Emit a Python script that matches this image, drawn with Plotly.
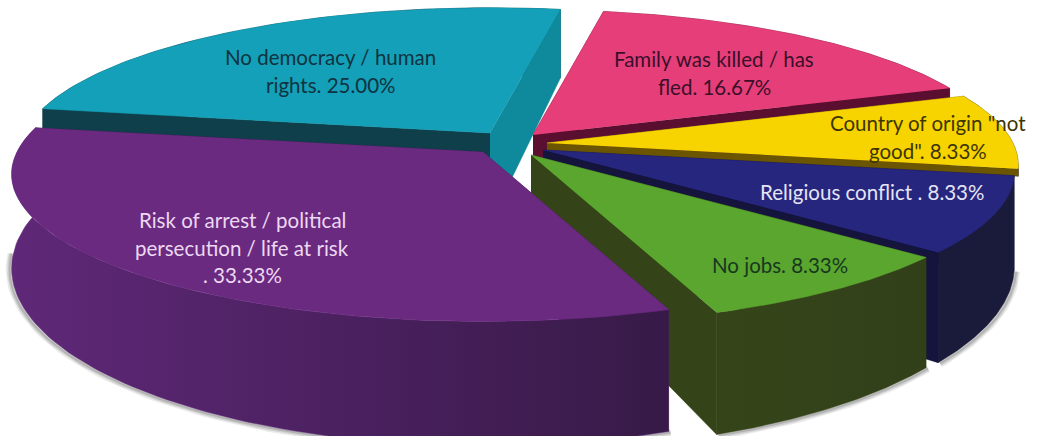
import numpy as np
import plotly.graph_objects as go

categories = ["Family was killed / has fled", 'Country of origin "not good"', "Religious conflict",
              "No jobs", "Risk of arrest / political persecution / life at risk", "No democracy / human rights"]
values = [16.67, 8.33, 8.33, 8.33, 33.33, 25.00]

# layout / styling (one entry per slice)
apex_x = [533, 547, 543, 531, 483, 490]
apex_y = [135, 143, 150, 155, 152, 133]
depth_scale = [1, 0.08, 1, 1, 1, 1]
top_col = ["#E63E78", "#F7D400", "#26267E", "#5AA62E", "#6A2A80", "#14A0B8"]
face_col = ["#5A0F30", "#6B5500", "#14143C", "#344318", "#4A1E5E", "#0E8A9C"]
start_face_col = ["#5A0F30", "#6B5500", "#14143C", "#344318", "#4A1E5E", "#0F3F4A"]
rim_left = ["#5A0F30", "#1A1A3A", "#1A1A3A", "#354519", "#5F2878", "#0F3F4A"]
rim_right = ["#5A0F30", "#1A1A3A", "#1A1A3A", "#32401A", "#371A47", "#0F3F4A"]
draw_order = [5, 0, 1, 2, 3, 4]

START_ANGLE, RX, RY, PERSP, DEPTH = 80.0, 466.0, 144.0, 0.15, 90.0

label_lines = [
    (["Family was killed / has", "fled. 16.67%"], 714, [59, 87], "#3A0F2A"),
    (['Country of origin "not', 'good". 8.33%'], 928, [123, 151], "#3E3500"),
    (["Religious conflict . 8.33%"], 872, [192], "#E4E4F6"),
    (["No jobs. 8.33%"], 780, [265], "#17381F"),
    (["Risk of arrest / political", "persecution / life at risk", ". 33.33%"], 242, [220, 248, 275], "#EDD8F2"),
    (["No democracy / human", "rights. 25.00%"], 330, [57, 85], "#0F3340"),
]


def project(theta_deg, ax, ay):
    t = np.radians(theta_deg)
    s = 1.0 / (1.0 + PERSP * np.sin(t))
    return ax + RX * np.cos(t) * s, ay - RY * np.sin(t) * s, DEPTH * s * s


fracs = np.array(values) / sum(values) * 360.0
ends = START_ANGLE - np.cumsum(fracs)
starts = ends + fracs


def poly(x, y, color=None, gradient=None):
    kw = dict(x=list(x), y=list(y), mode="lines", fill="toself", hoverinfo="skip",
              showlegend=False, line=dict(width=0.5, color=color or gradient[0]))
    if gradient:
        kw["fillgradient"] = dict(type="horizontal",
                                  colorscale=[[0, gradient[0]], [1, gradient[1]]])
    else:
        kw["fillcolor"] = color
    return go.Scatter(**kw)


fig = go.Figure()

# soft shadow along the lower edge
for i in draw_order:
    th = np.linspace(starts[i], ends[i], 90)
    th = th[np.sin(np.radians(th)) < -0.05]
    if len(th) and depth_scale[i] == 1:
        px, py, pd = project(th, apex_x[i], apex_y[i])
        for w, a in ((8, 0.12), (5, 0.18), (2, 0.25)):
            fig.add_trace(go.Scatter(x=px + np.sign(px - 515) * 2, y=py + pd + 1, mode="lines",
                                     hoverinfo="skip", showlegend=False,
                                     line=dict(color=f"rgba(90,90,90,{a})", width=w)))

for i in draw_order:
    ax, ay = apex_x[i], apex_y[i]
    th = np.linspace(starts[i], ends[i], 90)
    px, py, pd = project(th, ax, ay)
    pd = pd * depth_scale[i]
    ad = DEPTH * depth_scale[i]
    # leading radial face (hidden by the rim and the top where it should be)
    fig.add_trace(poly([ax, px[0], px[0], ax], [ay, py[0], py[0] + pd[0], ay + ad], color=start_face_col[i]))
    # outer rim
    fig.add_trace(poly(np.r_[px, px[::-1]], np.r_[py, (py + pd)[::-1]], gradient=(rim_left[i], rim_right[i])))
    # trailing radial face
    fig.add_trace(poly([ax, px[-1], px[-1], ax], [ay, py[-1], py[-1] + pd[-1], ay + ad], color=face_col[i]))
    # top surface
    fig.add_trace(poly(np.r_[ax, px], np.r_[ay, py], color=top_col[i]))

annotations = []
for lines, cx, ys, col in label_lines:
    for text, y in zip(lines, ys):
        annotations.append(dict(x=cx, y=y, text=text, showarrow=False, xanchor="center", yanchor="middle",
                                font=dict(family="Lato", size=20.5, color=col)))

fig.update_layout(
    width=1043, height=436, margin=dict(l=0, r=0, t=0, b=0),
    paper_bgcolor="white", plot_bgcolor="white", showlegend=False, annotations=annotations,
    xaxis=dict(range=[0, 1043], visible=False, fixedrange=True),
    yaxis=dict(range=[436, 0], visible=False, fixedrange=True),
)
fig.write_html("out.html", config=dict(displayModeBar=False),
               post_script="document.body.style.margin='0';document.documentElement.style.overflow='hidden';")
